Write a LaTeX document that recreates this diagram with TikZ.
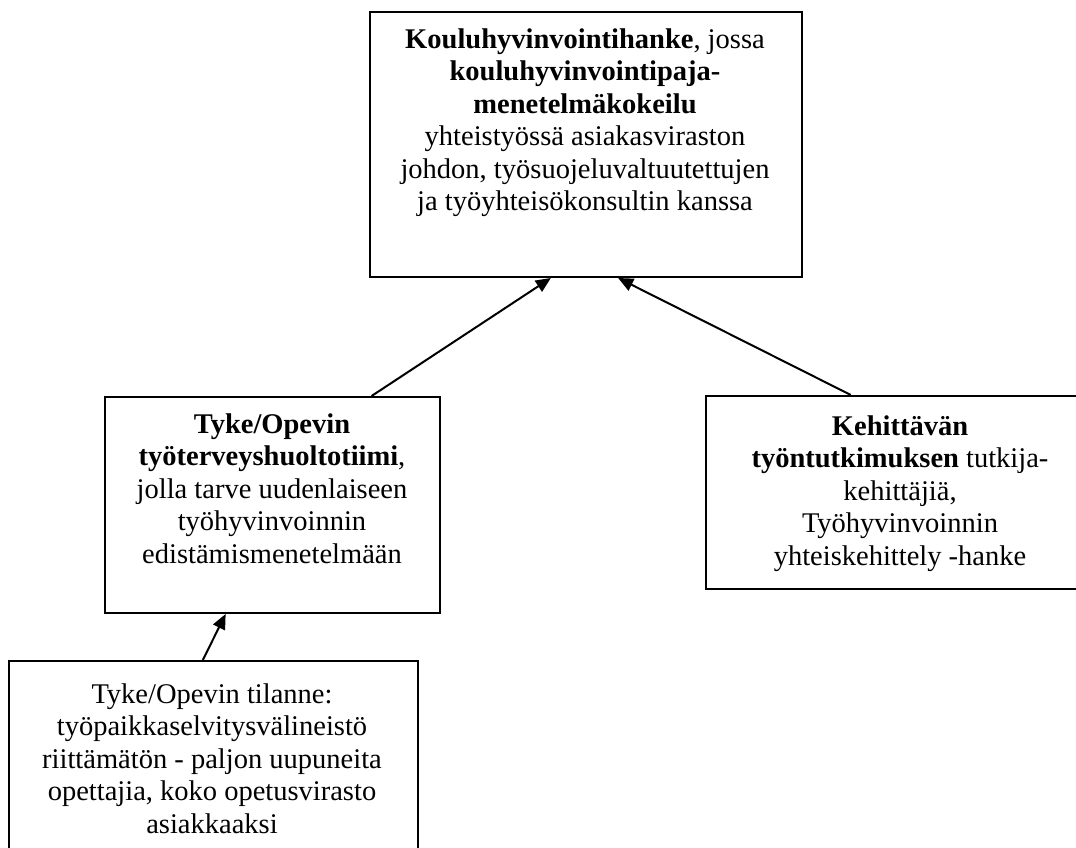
\documentclass[tikz,border=0pt]{standalone}
\usepackage{fontspec}
\setmainfont{Liberation Serif}
\usetikzlibrary{calc,arrows.meta}
\tikzset{
  box/.style={draw, line width=2pt, rectangle, inner sep=0pt, anchor=north west},
  txt/.style={align=center, inner sep=0pt, anchor=north,
    font=\fontsize{28.5}{32.4}\selectfont},
  arr/.style={line width=2pt, -{Triangle[length=15pt,width=13pt]}}
}
\begin{document}
\begin{tikzpicture}[x=1pt,y=-1pt]
  \useasboundingbox (0,0) rectangle (1076,847);
  \clip (0,0) rectangle (1076,847);

  % boxes
  \node[box, minimum width=432pt, minimum height=265pt] (top) at (369,11) {};
  \node[box, minimum width=335pt, minimum height=216pt] (mid) at (104,396) {};
  \node[box, minimum width=390pt, minimum height=193pt] (right) at (705,395) {};
  \node[box, minimum width=409pt, minimum height=220pt] (low) at (8,660) {};

  % texts
  \node[txt] (toptxt) at (585,28.6) {\textbf{Kouluhyvinvointihanke}, jossa\\
    \textbf{kouluhyvinvointipaja-}\\
    \textbf{menetelmäkokeilu}\\
    yhteistyössä asiakasviraston\\
    johdon, työsuojeluvaltuutettujen\\
    ja työyhteisökonsultin kanssa};
  \node[txt] (midtxt) at (272,413.6) {\textbf{Tyke/Opevin}\\
    \textbf{työterveyshuoltotiimi},\\
    jolla tarve uudenlaiseen\\
    työhyvinvoinnin\\
    edistämismenetelmään};
  \node[txt] (righttxt) at (900,415.6) {\textbf{Kehittävän}\\
    \textbf{työntutkimuksen} tutkija-\\
    kehittäjiä,\\
    Työhyvinvoinnin\\
    yhteiskehittely -hanke};
  \node[txt] (lowtxt) at (212,683.6) {Tyke/Opevin tilanne:\\
    työpaikkaselvitysvälineistö\\
    riittämätön - paljon uupuneita\\
    opettajia, koko opetusvirasto\\
    asiakkaaksi};

  % connectors
  \draw[arr] ($(mid.north west)!0.794!(mid.north east)$) -- ($(top.south west)!0.419!(top.south east)$);
  \draw[arr] ($(right.north west)!0.372!(right.north east)$) -- ($(top.south west)!0.574!(top.south east)$);
  \draw[arr] ($(low.north west)!0.474!(low.north east)$) -- ($(mid.south west)!0.361!(mid.south east)$);
\end{tikzpicture}
\end{document}
